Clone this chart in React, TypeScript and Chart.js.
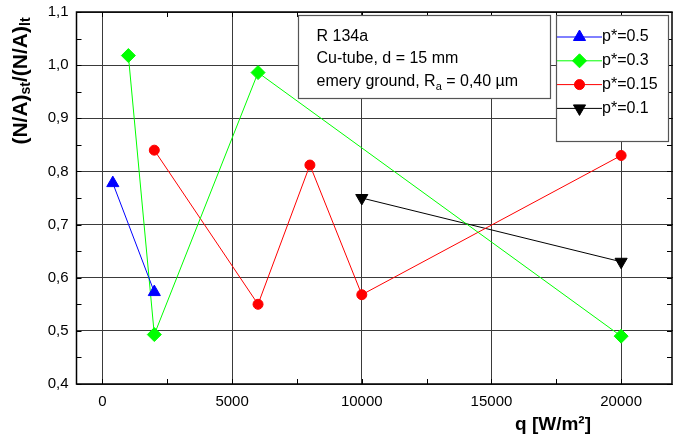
import React, { useEffect, useRef } from "react";
import { Chart, registerables } from "chart.js";
import { drawPoint } from "chart.js/helpers";

Chart.register(...registerables);

// Heat flux q [W/m²] and ratio values per reduced pressure series
const qP05 = [400, 2000];
const vP05 = [0.778, 0.573];

const qP03 = [1000, 2000, 6000, 20000];
const vP03 = [1.018, 0.493, 0.986, 0.49];

const qP015 = [2000, 6000, 8000, 10000, 20000];
const vP015 = [0.84, 0.55, 0.812, 0.568, 0.83];

const qP01 = [10000, 20000];
const vP01 = [0.75, 0.63];

const seriesLabels = ["p*=0.5", "p*=0.3", "p*=0.15", "p*=0.1"];
const seriesColors = ["#0000ff", "#00ff00", "#ff0000", "#000000"];

const xTicks = [0, 5000, 10000, 15000, 20000];
const yTicks = [0.4, 0.5, 0.6, 0.7, 0.8, 0.9, 1.0, 1.1];

const infoLines = ["R 134a", "Cu-tube, d = 15 mm"];

const FONT = "'Liberation Sans', Arial, Helvetica, sans-serif";

const toPoints = (xs: number[], ys: number[]) => xs.map((x, i) => ({ x, y: ys[i] }));

type Marker = { style: any; radius: number; rotation: number };
const markers: Marker[] = [
  { style: "triangle", radius: 7, rotation: 0 },
  { style: "rectRot", radius: 7, rotation: 0 },
  { style: "circle", radius: 5, rotation: 0 },
  { style: "triangle", radius: 7, rotation: 180 },
];

const framePlugin = {
  id: "frameAndNotes",
  afterDatasetsDraw(chart: any) {
    const { ctx, chartArea } = chart;
    const { left, right, top, bottom } = chartArea;
    const xs = chart.scales.x;
    const ys = chart.scales.y;
    ctx.save();

    // frame
    ctx.strokeStyle = "#000";
    ctx.lineWidth = 1.5;
    ctx.strokeRect(left, top, right - left - 1, bottom - top);

    // inward ticks on all four sides (major + minor)
    ctx.lineWidth = 1;
    const tl = 5;
    for (let v = 0; v <= 22000; v += 2500) {
      const px = Math.round(xs.getPixelForValue(v)) + 0.5;
      if (px > right - 2) continue;
      ctx.beginPath();
      ctx.moveTo(px, bottom);
      ctx.lineTo(px, bottom - tl);
      ctx.moveTo(px, top);
      ctx.lineTo(px, top + tl);
      ctx.stroke();
    }
    for (let i = 0; i <= 14; i++) {
      const v = 0.4 + i * 0.05;
      const py = Math.round(ys.getPixelForValue(v)) + 0.5;
      ctx.beginPath();
      ctx.moveTo(left, py);
      ctx.lineTo(left + tl, py);
      ctx.moveTo(right - 1, py);
      ctx.lineTo(right - 1 - tl, py);
      ctx.stroke();
    }

    // info box
    ctx.fillStyle = "#fff";
    ctx.fillRect(298.5, 15.5, 252, 83);
    ctx.strokeStyle = "#555";
    ctx.lineWidth = 1.2;
    ctx.strokeRect(298.5, 15.5, 252, 83);
    ctx.fillStyle = "#000";
    ctx.textBaseline = "middle";
    ctx.textAlign = "left";
    ctx.font = `16px ${FONT}`;
    ctx.fillText(infoLines[0], 316.5, 37);
    ctx.fillText(infoLines[1], 316.5, 59);
    let tx = 316.5;
    const l3 = "emery ground, R";
    ctx.fillText(l3, tx, 82);
    tx += ctx.measureText(l3).width;
    ctx.font = `11px ${FONT}`;
    ctx.fillText("a", tx, 87);
    tx += ctx.measureText("a").width;
    ctx.font = `16px ${FONT}`;
    ctx.fillText(" = 0,40 \u00b5m", tx, 82);

    // legend
    ctx.fillStyle = "#fff";
    ctx.fillRect(556.5, 15.5, 112, 126);
    ctx.strokeStyle = "#555";
    ctx.lineWidth = 1.2;
    ctx.strokeRect(556.5, 15.5, 112, 126);
    ctx.font = `16px ${FONT}`;
    chart.data.datasets.forEach((ds: any, i: number) => {
      const y = 37 + i * 23.8;
      const c = seriesColors[i];
      ctx.strokeStyle = c;
      ctx.lineWidth = 1;
      ctx.beginPath();
      ctx.moveTo(557, y);
      ctx.lineTo(602, y);
      ctx.stroke();
      ctx.fillStyle = c;
      drawPoint(ctx, {
        pointStyle: markers[i].style,
        radius: markers[i].radius,
        rotation: markers[i].rotation,
        borderWidth: 1,
      } as any, 579.5, y);
      ctx.fillStyle = "#000";
      ctx.fillText(ds.label, 602, y);
    });

    // y-axis title with subscripts
    ctx.save();
    ctx.translate(21, 81);
    ctx.rotate(-Math.PI / 2);
    ctx.textBaseline = "middle";
    ctx.fillStyle = "#000";
    const big = `bold 21px ${FONT}`;
    const small = `bold 14px ${FONT}`;
    const parts: [string, string, number][] = [
      ["(N/A)", big, 0],
      ["st", small, 5],
      ["/(N/A)", big, 0],
      ["lt", small, 5],
    ];
    let total = 0;
    parts.forEach(([t, f]) => {
      ctx.font = f;
      total += ctx.measureText(t).width;
    });
    let px = -total / 2;
    parts.forEach(([t, f, dy]) => {
      ctx.font = f;
      ctx.fillText(t, px, dy);
      px += ctx.measureText(t).width;
    });
    ctx.restore();

    // x-axis title
    ctx.font = `bold 19px ${FONT}`;
    ctx.textAlign = "center";
    ctx.textBaseline = "middle";
    ctx.fillStyle = "#000";
    ctx.fillText("q [W/m\u00b2]", 553, 425);

    ctx.restore();
  },
};

export default function App() {
  const canvasRef = useRef<HTMLCanvasElement>(null);

  useEffect(() => {
    const canvas = canvasRef.current;
    if (!canvas) return;
    const xsArr = [qP05, qP03, qP015, qP01];
    const ysArr = [vP05, vP03, vP015, vP01];
    const chart = new Chart(canvas, {
      type: "scatter",
      data: {
        datasets: seriesLabels.map((label, i) => ({
          label,
          data: toPoints(xsArr[i], ysArr[i]),
          showLine: true,
          borderColor: seriesColors[i],
          backgroundColor: seriesColors[i],
          borderWidth: 1,
          pointStyle: markers[i].style,
          pointRadius: markers[i].radius,
          pointRotation: markers[i].rotation,
          pointBorderWidth: 1,
          pointBorderColor: seriesColors[i],
          pointBackgroundColor: seriesColors[i],
        })),
      },
      options: {
        responsive: false,
        animation: false,
        devicePixelRatio: 1,
        layout: { autoPadding: false, padding: { top: 12, right: 0, left: 0, bottom: 0 } },
        plugins: { legend: { display: false }, tooltip: { enabled: false } },
        scales: {
          x: {
            type: "linear",
            min: -1000,
            max: 22000,
            afterBuildTicks: (s: any) => {
              s.ticks = xTicks.map((v) => ({ value: v }));
            },
            afterFit: (s: any) => {
              s.height = 55;
              s.paddingLeft = 0;
              s.paddingRight = 0;
            },
            ticks: {
              color: "#000",
              font: { family: FONT, size: 15 },
              padding: 9,
              maxRotation: 0,
              callback: (v: any) => String(v),
            },
            grid: { color: "#3a3a3a", lineWidth: 1, drawTicks: false },
            border: { display: false },
          },
          y: {
            type: "linear",
            min: 0.4,
            max: 1.1,
            afterBuildTicks: (s: any) => {
              s.ticks = yTicks.map((v) => ({ value: v }));
            },
            afterFit: (s: any) => {
              s.width = 76.5;
              s.paddingTop = 0;
              s.paddingBottom = 0;
            },
            ticks: {
              color: "#000",
              font: { family: FONT, size: 15 },
              padding: 8,
              callback: (v: any) => Number(v).toFixed(1).replace(".", ","),
            },
            grid: { color: "#3a3a3a", lineWidth: 1, drawTicks: false },
            border: { display: false },
          },
        },
      },
      plugins: [framePlugin],
    });
    return () => chart.destroy();
  }, []);

  return (
    <div style={{ position: "absolute", left: 0, top: 0, width: 673, height: 439, background: "#fff" }}>
      <canvas ref={canvasRef} width={673} height={439} />
    </div>
  );
}
